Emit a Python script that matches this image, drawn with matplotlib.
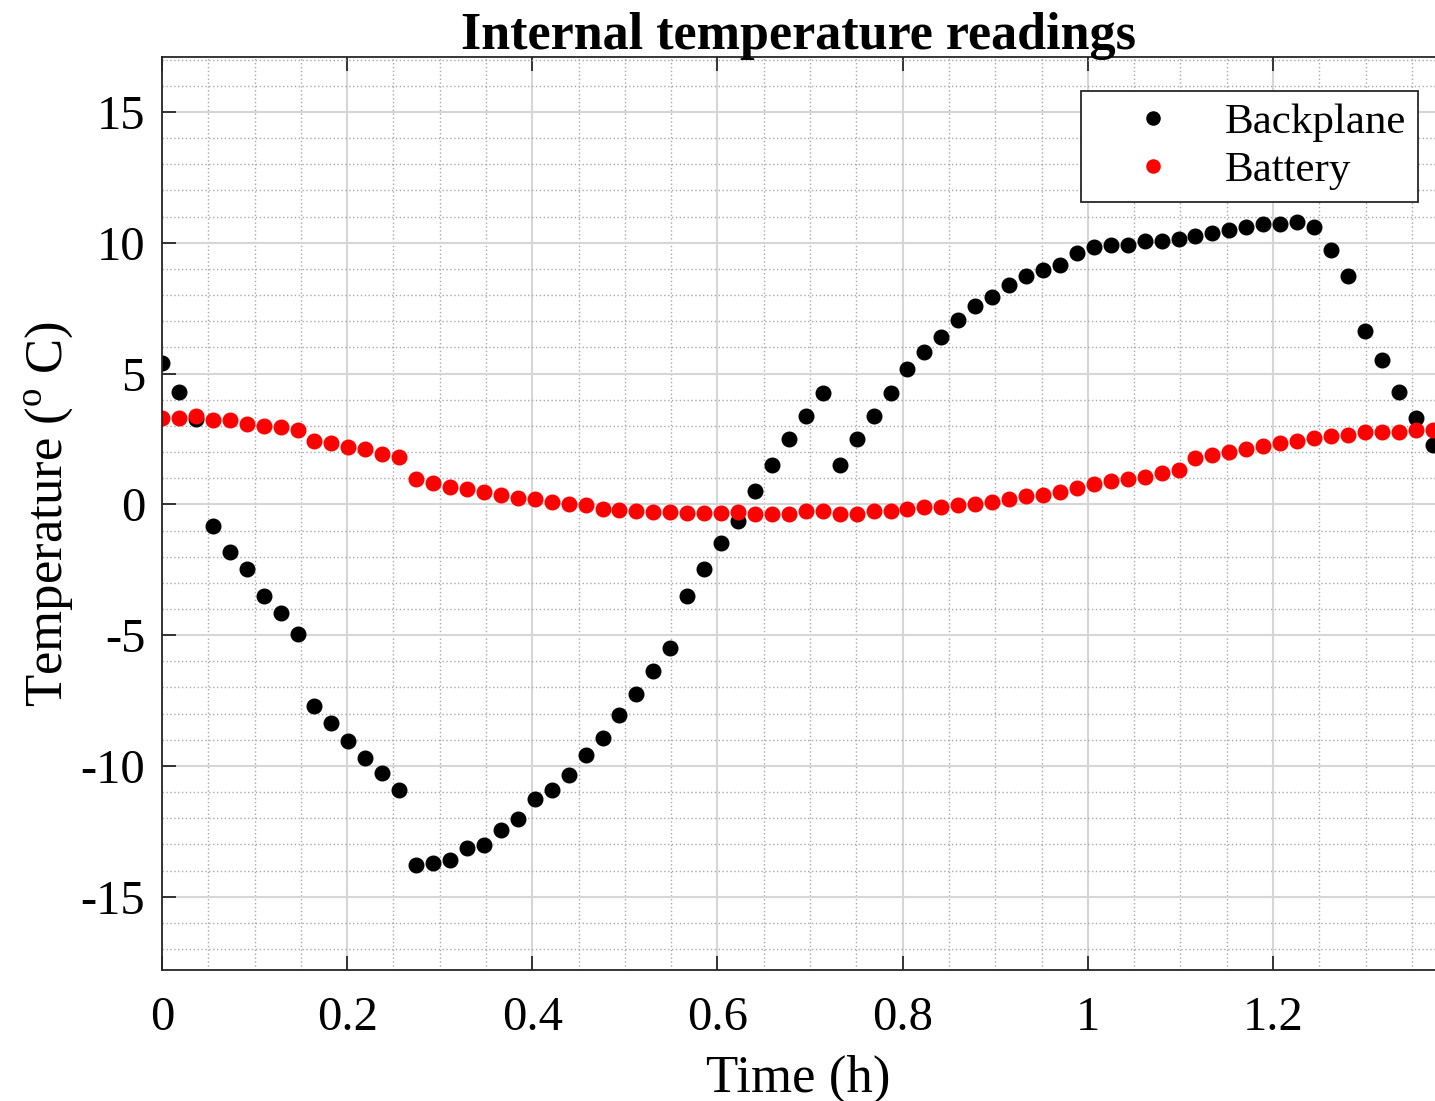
import numpy as np
import matplotlib
matplotlib.use("Agg")
from matplotlib import pyplot as plt
from matplotlib.ticker import MultipleLocator, FormatStrFormatter

# readings logged every ~66 s (0.0183 h)
SAMPLE_STEP_H = 0.0183

backplane = [5.40, 4.29, 3.27, -0.82, -1.81, -2.49, -3.49, -4.15, -4.94, -7.71,
             -8.37, -9.03, -9.69, -10.26, -10.92, -13.79, -13.70, -13.58, -13.14, -13.02,
             -12.46, -12.03, -11.26, -10.92, -10.36, -9.58, -8.92, -8.04, -7.26, -6.38,
             -5.49, -3.50, -2.49, -1.49, -0.62, 0.51, 1.50, 2.51, 3.39, 4.27,
             1.51, 2.51, 3.39, 4.27, 5.16, 5.82, 6.38, 7.06, 7.60, 7.93,
             8.37, 8.71, 8.94, 9.15, 9.60, 9.83, 9.93, 9.93, 10.05, 10.05,
             10.15, 10.26, 10.38, 10.48, 10.59, 10.71, 10.71, 10.81, 10.59, 9.71,
             8.72, 6.61, 5.51, 4.29, 3.29, 2.28]

battery = [3.31, 3.31, 3.36, 3.24, 3.21, 3.07, 2.99, 2.97, 2.83, 2.42,
           2.34, 2.20, 2.10, 1.94, 1.81, 0.95, 0.80, 0.67, 0.57, 0.47,
           0.37, 0.25, 0.19, 0.08, 0.01, -0.04, -0.17, -0.21, -0.25, -0.28,
           -0.28, -0.32, -0.32, -0.34, -0.30, -0.35, -0.35, -0.35, -0.25, -0.25,
           -0.35, -0.35, -0.25, -0.25, -0.18, -0.09, -0.09, -0.04, 0.03, 0.08,
           0.19, 0.31, 0.35, 0.46, 0.63, 0.76, 0.88, 0.95, 1.04, 1.19,
           1.31, 1.76, 1.90, 2.00, 2.11, 2.23, 2.33, 2.44, 2.55, 2.61,
           2.66, 2.78, 2.78, 2.78, 2.83, 2.83]

time_h = np.arange(len(backplane)) * SAMPLE_STEP_H

plt.rcParams['font.family'] = ['Liberation Serif', 'DejaVu Serif']
plt.rcParams['mathtext.fontset'] = 'custom'
plt.rcParams['mathtext.rm'] = 'Liberation Serif'
plt.rcParams['axes.unicode_minus'] = False

fig = plt.figure(figsize=(14.35, 11.01), dpi=100)
ax = fig.add_axes([162 / 1435, 1 - 970 / 1101, 1 - 162 / 1435, (970 - 57) / 1101])

ax.plot(time_h, backplane, 'o', color='black', markersize=10.5, label='Backplane')
ax.plot(time_h, battery, 'o', color='red', markersize=10.5, label='Battery')

ax.set_xlim(0, 1.375)
ax.set_ylim(-17.8, 17.1)
ax.xaxis.set_major_locator(MultipleLocator(0.2))
ax.xaxis.set_minor_locator(MultipleLocator(0.05))
ax.yaxis.set_major_locator(MultipleLocator(5))
ax.yaxis.set_minor_locator(MultipleLocator(1))
ax.xaxis.set_major_formatter(FormatStrFormatter('%g'))

ax.grid(which='major', color='#d6d6d6', linewidth=1.5, linestyle='-')
ax.grid(which='minor', color='#a8a8a8', linewidth=1.0, linestyle=(0, (1, 1.8)))
ax.set_axisbelow(True)

ax.tick_params(which='major', direction='in', length=10, width=1.3, color='#262626',
               labelsize=35, top=True, right=False, pad=12)
ax.tick_params(axis='x', pad=19)
ax.tick_params(which='minor', length=0)

for side in ['left', 'bottom', 'top']:
    ax.spines[side].set_color('#262626')
    ax.spines[side].set_linewidth(1.3)
ax.spines['right'].set_visible(False)

ax.set_title('Internal temperature readings', fontsize=37.5, fontweight='bold', pad=6)
ax.set_xlabel('Time (h)', fontsize=38, labelpad=10)
ax.set_ylabel('Temperature ($^\\mathrm{o}$ C)', fontsize=38, labelpad=3)

leg = ax.legend(loc='upper right', bbox_to_anchor=(0.9866, 0.9628), borderaxespad=0,
                fontsize=31, fancybox=False, framealpha=1, edgecolor='#262626',
                handletextpad=0.25, handlelength=2.8, markerscale=0.9,
                borderpad=0.28, labelspacing=0.2)
leg.get_frame().set_linewidth(1.3)

fig.savefig('out.png', dpi=100)
